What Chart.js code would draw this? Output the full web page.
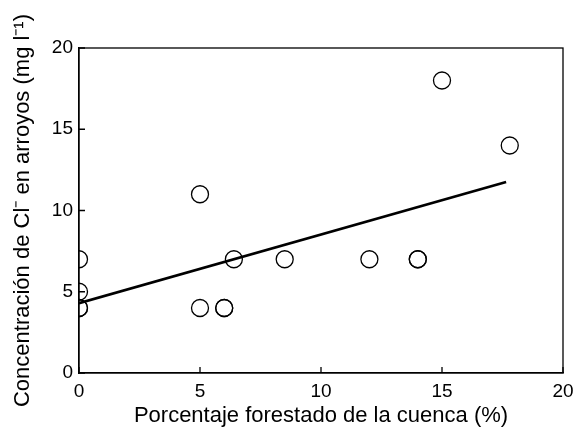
<!DOCTYPE html>
<html>
<head>
<meta charset="utf-8">
<script src="https://cdn.jsdelivr.net/npm/chart.js@4/dist/chart.umd.min.js"></script>
<style>
  html, body { margin: 0; padding: 0; background: #fff; }
  #wrap { width: 575px; height: 429px; }
</style>
</head>
<body>
<div id="wrap"><canvas id="clChart" width="575" height="429"></canvas></div>
<script>
// datos
const forestPct = [0, 0, 0, 0, 5, 5, 6, 6, 6.4, 8.5, 12, 14, 14, 15, 17.8];
const clConc    = [7, 5, 4, 4, 11, 4, 4, 4, 7, 7, 7, 7, 7, 18, 14];
const fitX = [0, 17.65];
const fitY = [4.3, 11.75];
const tickVals = [0, 5, 10, 15, 20];

const points = forestPct.map((x, i) => ({ x: x, y: clConc[i] }));
const fitLine = fitX.map((x, i) => ({ x: x, y: fitY[i] }));

const FONT = 'Liberation Sans, Arial, sans-serif';

// marco superior/derecho y marcas hacia adentro
const framePlugin = {
  id: 'frame',
  afterDraw(chart) {
    const { ctx, chartArea: a, scales } = chart;
    ctx.save();
    ctx.strokeStyle = '#000';
    ctx.lineWidth = 1.3;
    ctx.strokeRect(a.left, a.top, a.right - a.left, a.bottom - a.top);
    ctx.beginPath();
    tickVals.forEach(v => {
      const px = scales.x.getPixelForValue(v);
      ctx.moveTo(px, a.bottom);
      ctx.lineTo(px, a.bottom - 6);
      const py = scales.y.getPixelForValue(v);
      ctx.moveTo(a.left, py);
      ctx.lineTo(a.left + 6, py);
    });
    ctx.stroke();
    ctx.restore();
  }
};

const chart = new Chart(document.getElementById('clChart'), {
  type: 'scatter',
  data: {
    datasets: [
      {
        label: 'datos',
        data: points,
        pointStyle: 'circle',
        pointRadius: 8.5,
        pointHoverRadius: 8.5,
        backgroundColor: 'rgba(0,0,0,0)',
        borderColor: '#000',
        borderWidth: 1.3
      },
      {
        type: 'line',
        label: 'ajuste',
        data: fitLine,
        borderColor: '#000',
        borderWidth: 2.6,
        pointRadius: 0,
        fill: false
      }
    ]
  },
  options: {
    responsive: false,
    animation: false,
    layout: { padding: { top: 48, right: 12, left: 0, bottom: 0 } },
    plugins: { legend: { display: false }, tooltip: { enabled: false } },
    scales: {
      x: {
        type: 'linear',
        min: 0, max: 20,
        afterBuildTicks: s => { s.ticks = tickVals.map(v => ({ value: v })); },
        afterFit: s => { s.height = 56; s.paddingLeft = 0; s.paddingRight = 0; },
        grid: { display: false, drawTicks: false },
        border: { display: true, color: '#000', width: 1.3 },
        ticks: { color: '#000', padding: 7, font: { family: FONT, size: 19 } },
        title: {
          display: true,
          text: 'Porcentaje forestado de la cuenca (%)',
          color: '#000',
          padding: { top: 0, bottom: 0 },
          font: { family: FONT, size: 22 }
        }
      },
      y: {
        type: 'linear',
        min: 0, max: 20,
        afterBuildTicks: s => { s.ticks = tickVals.map(v => ({ value: v })); },
        afterFit: s => { s.width = 79; s.paddingTop = 0; s.paddingBottom = 0; },
        grid: { display: false, drawTicks: false },
        border: { display: true, color: '#000', width: 1.3 },
        ticks: { color: '#000', padding: 6, font: { family: FONT, size: 19 } },
        title: {
          display: true,
          text: 'Concentración de Cl⁻ en arroyos (mg l⁻¹)',
          color: '#000',
          padding: { top: 10, bottom: 0 },
          font: { family: FONT, size: 22 }
        }
      }
    }
  },
  plugins: [framePlugin]
});
</script>
</body>
</html>
